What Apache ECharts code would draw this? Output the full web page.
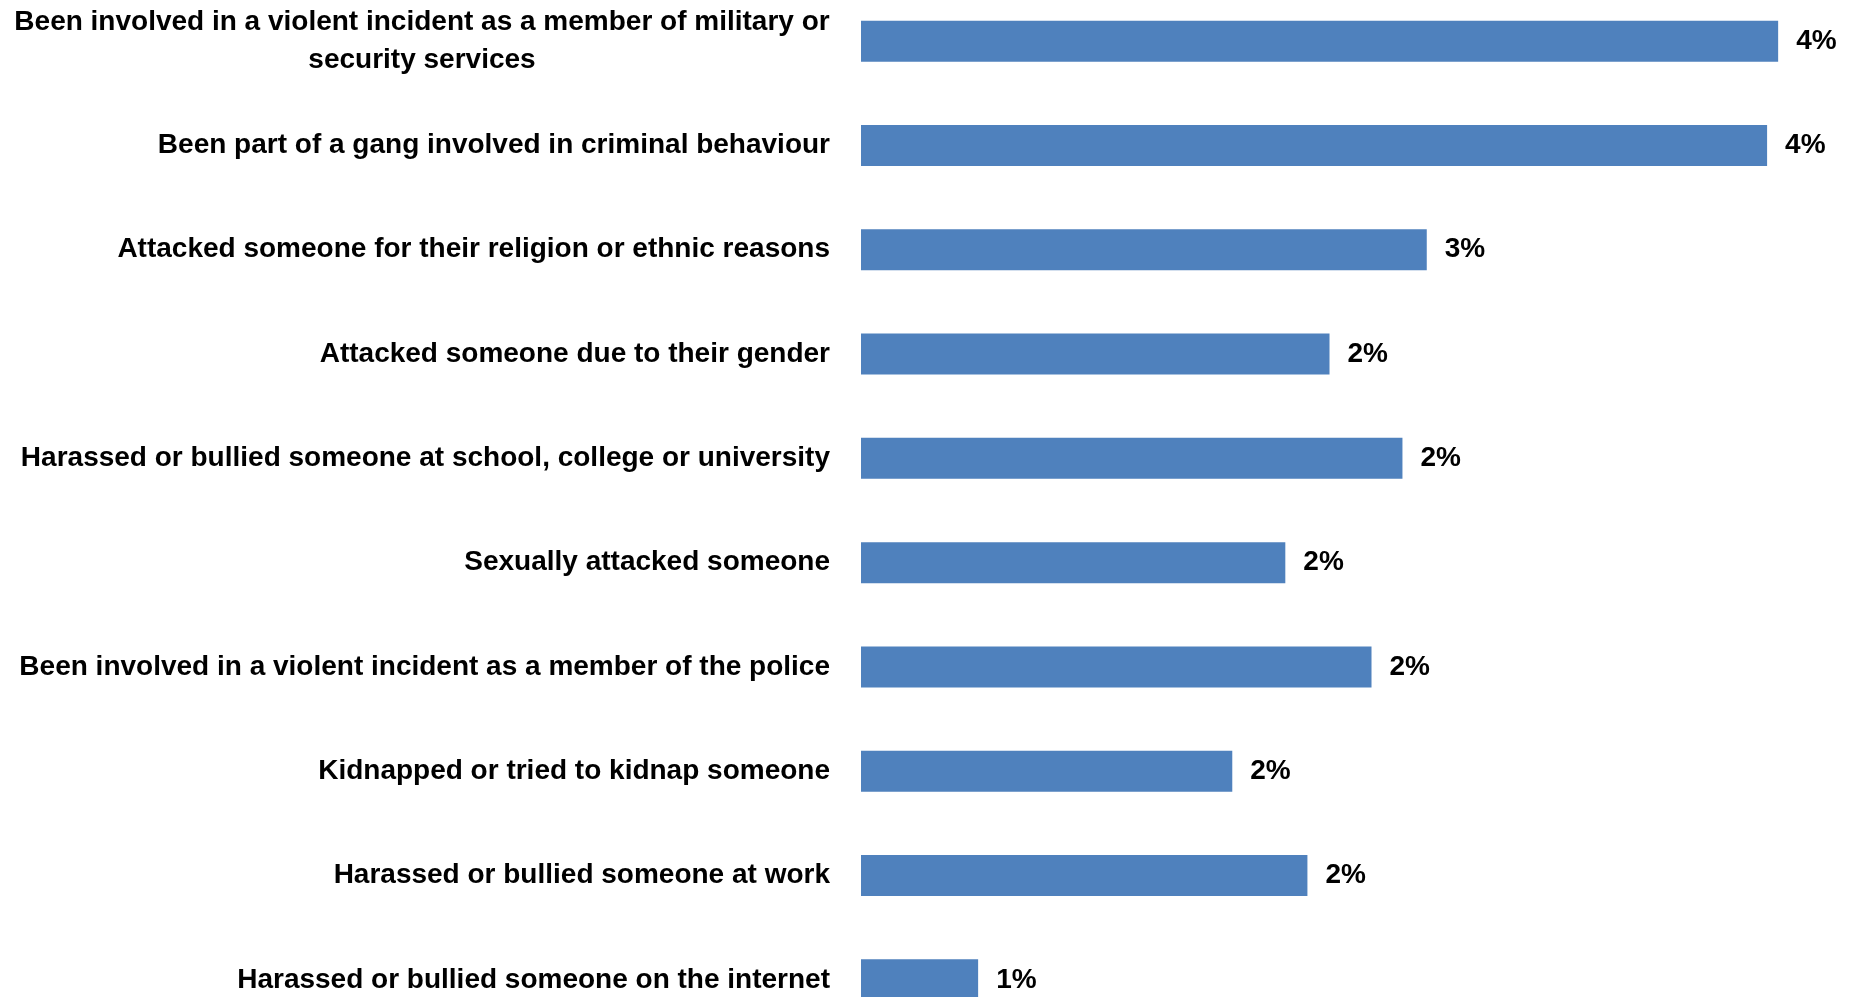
<!DOCTYPE html>
<html>
<head>
<meta charset="utf-8">
<style>
html,body{margin:0;padding:0;background:#fff;overflow:hidden;width:1852px;height:997px;}
#chart{position:absolute;left:0;top:-11px;width:1852px;height:1060px;}
</style>
<script src="https://cdn.jsdelivr.net/npm/echarts@6/dist/echarts.min.js"></script>
</head>
<body>
<div id="chart"></div>
<script>
var categories = [
  "Been involved in a violent incident as a member of military or\nsecurity services",
  "Been part of a gang involved in criminal behaviour",
  "Attacked someone for their religion or ethnic reasons",
  "Attacked someone due to their gender",
  "Harassed or bullied someone at school, college or university",
  "Sexually attacked someone",
  "Been involved in a violent incident as a member of the police",
  "Kidnapped or tried to kidnap someone",
  "Harassed or bullied someone at work",
  "Harassed or bullied someone on the internet"
];
var values = [4.15, 4.10, 2.56, 2.12, 2.45, 1.92, 2.31, 1.68, 2.02, 0.53];

var FONT = '"Liberation Sans Narrow", "Liberation Sans", Arial, sans-serif';
var catFontSize = 28;
var cv = document.createElement('canvas').getContext('2d');
cv.font = 'bold ' + catFontSize + 'px ' + FONT;
function lineW(s){ return Math.ceil(cv.measureText(s).width); }
var maxW = 0;
categories.forEach(function(c){
  if (c.indexOf('\n') >= 0) c.split('\n').forEach(function(l){ maxW = Math.max(maxW, lineW(l)); });
});

var chart = echarts.init(document.getElementById('chart'));
chart.setOption({
  animation: false,
  backgroundColor: '#ffffff',
  grid: { left: 861, top: 0, width: 972.4, height: 1043 },
  xAxis: { type: 'value', min: 0, max: 4.4, show: false },
  yAxis: {
    type: 'category', data: categories, inverse: true,
    axisLine: { show: false }, axisTick: { show: false },
    axisLabel: {
      margin: 31, color: '#000', fontWeight: 'bold', fontFamily: FONT, fontSize: catFontSize,
      formatter: function (v) {
        var lines = v.split('\n');
        if (lines.length === 1) return v;
        return lines.map(function (l) { return '{c|' + l + '}'; }).join('\n');
      },
      rich: {
        c: { width: maxW, align: 'center', fontWeight: 'bold', fontFamily: FONT, fontSize: catFontSize, color: '#000', lineHeight: 38 }
      }
    }
  },
  series: [{
    type: 'bar', data: values, barWidth: 41,
    itemStyle: { color: '#4F81BD' },
    label: {
      show: true, position: 'right', distance: 18,
      color: '#000', fontWeight: 'bold', fontFamily: FONT, fontSize: 28,
      formatter: function (p) { return Math.round(p.value) + '%'; }
    }
  }]
});
</script>
</body>
</html>
